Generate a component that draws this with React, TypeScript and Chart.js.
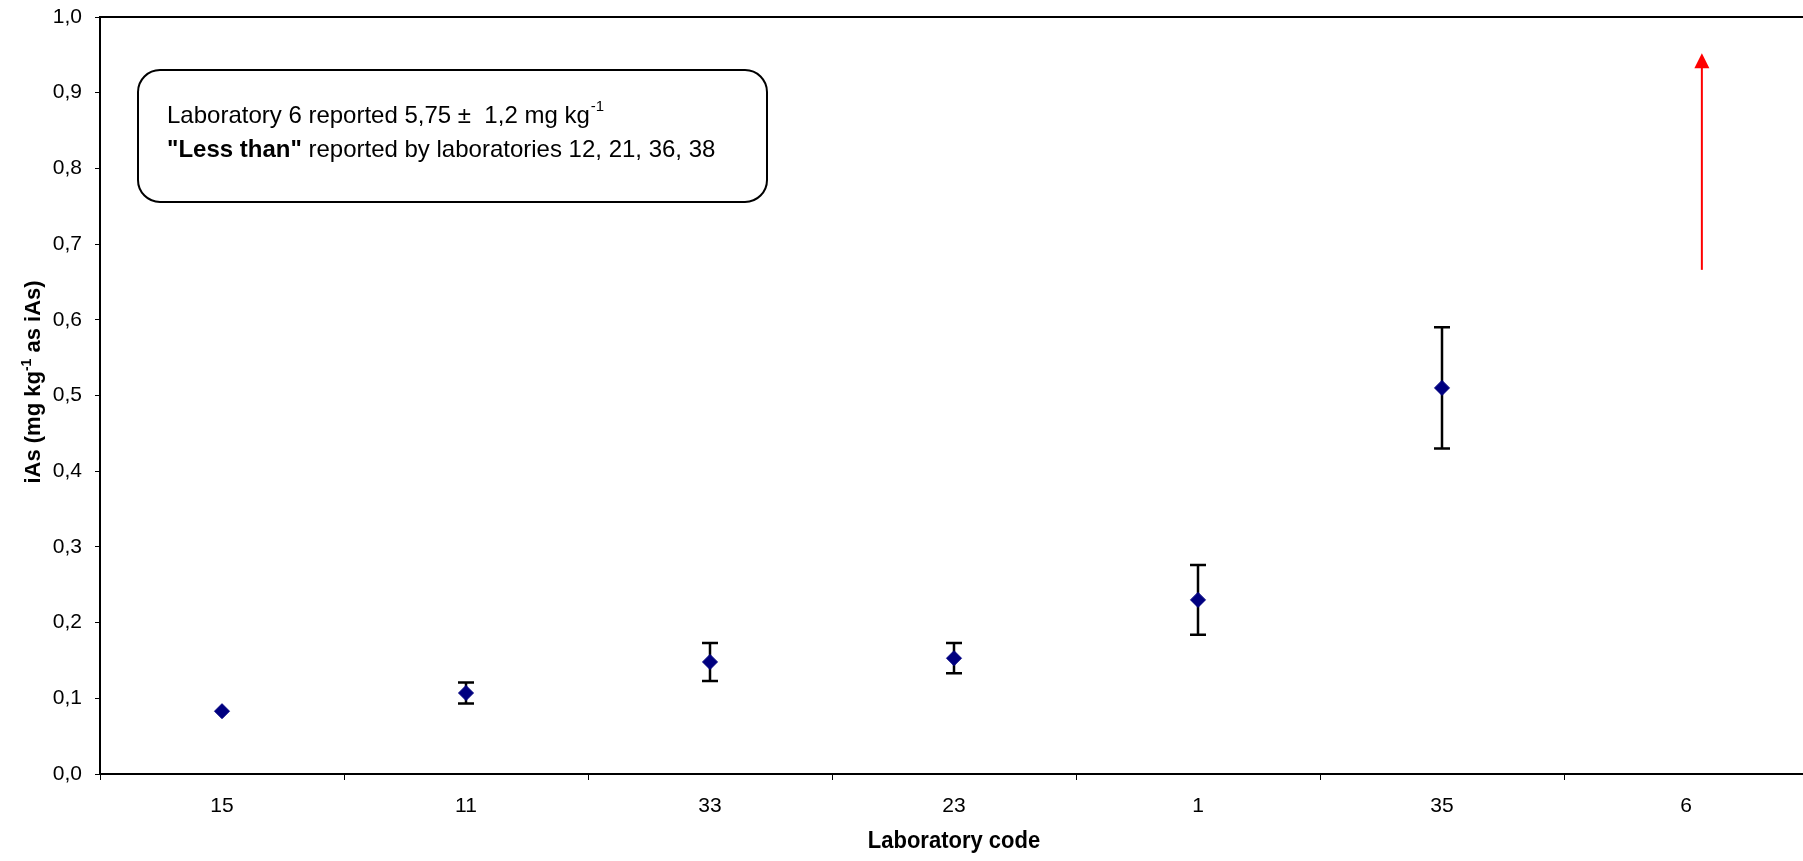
import React, { useEffect, useRef } from "react";
import { Chart, registerables } from "chart.js";

Chart.register(...registerables);

// ---- data ----
const labCodes = ["15", "11", "33", "23", "1", "35", "6"];
const iAsValues: (number | null)[] = [0.083, 0.107, 0.148, 0.153, 0.23, 0.51, null];
const uncertainties: (number | null)[] = [0, 0.014, 0.025, 0.02, 0.046, 0.08, null];
const yMin = 0;
const yMax = 1;
const yStep = 0.1;
// off-scale result of laboratory 6, shown as an arrow
const arrowCategory = 6.065;
const arrowFrom = 0.666;
const arrowTo = 0.952;
const noteLine1 = "Laboratory 6 reported 5,75 \u00B1  1,2 mg kg";
const noteLine1Sup = "-1";
const noteLine2Bold = "\"Less than\"";
const noteLine2 = " reported by laboratories 12, 21, 36, 38";
const xTitle = "Laboratory code";
const yTitleA = "iAs (mg kg";
const yTitleSup = "-1";
const yTitleB = " as iAs)";

const FONT = "'Liberation Sans', Arial, sans-serif";

const drawPlugin = {
  id: "drawPlugin",
  beforeDatasetsDraw(chart: any) {
    const ctx = chart.ctx;
    const xs = chart.scales.x;
    const ys = chart.scales.y;
    ctx.save();
    ctx.strokeStyle = "#000000";
    ctx.lineWidth = 2.5;
    iAsValues.forEach((v, i) => {
      const u = uncertainties[i];
      if (v === null || u === null || u === 0) return;
      const x = xs.getPixelForValue(i);
      const yHi = ys.getPixelForValue(v + u);
      const yLo = ys.getPixelForValue(v - u);
      ctx.beginPath();
      ctx.moveTo(x, yHi);
      ctx.lineTo(x, yLo);
      ctx.moveTo(x - 8, yHi);
      ctx.lineTo(x + 8, yHi);
      ctx.moveTo(x - 8, yLo);
      ctx.lineTo(x + 8, yLo);
      ctx.stroke();
    });
    ctx.restore();
  },
  afterDraw(chart: any) {
    const ctx = chart.ctx;
    const { left, right, top, bottom } = chart.chartArea;
    const xs = chart.scales.x;
    const ys = chart.scales.y;
    ctx.save();
    // top / right frame
    ctx.strokeStyle = "#000000";
    ctx.lineWidth = 2;
    ctx.beginPath();
    ctx.moveTo(left, top);
    ctx.lineTo(right, top);
    ctx.lineTo(right, bottom);
    ctx.stroke();

    // arrow (lab 6)
    const ax = xs.getPixelForValue(arrowCategory);
    const ay0 = ys.getPixelForValue(arrowFrom);
    const ay1 = ys.getPixelForValue(arrowTo);
    ctx.strokeStyle = "#FF0000";
    ctx.fillStyle = "#FF0000";
    ctx.lineWidth = 2;
    ctx.beginPath();
    ctx.moveTo(ax, ay0);
    ctx.lineTo(ax, ay1 + 12);
    ctx.stroke();
    ctx.beginPath();
    ctx.moveTo(ax, ay1);
    ctx.lineTo(ax - 7.5, ay1 + 15);
    ctx.lineTo(ax + 7.5, ay1 + 15);
    ctx.closePath();
    ctx.fill();

    // note box
    const bx = left + 38;
    const by = top + 53;
    const bw = 629;
    const bh = 132;
    ctx.fillStyle = "#ffffff";
    ctx.strokeStyle = "#000000";
    ctx.lineWidth = 2;
    ctx.beginPath();
    (ctx as any).roundRect(bx, by, bw, bh, 22);
    ctx.fill();
    ctx.stroke();
    ctx.fillStyle = "#000000";
    ctx.textBaseline = "alphabetic";
    ctx.textAlign = "left";
    const tx = bx + 29;
    ctx.font = `24px ${FONT}`;
    ctx.fillText(noteLine1, tx, by + 53);
    const w1 = ctx.measureText(noteLine1).width;
    ctx.font = `15px ${FONT}`;
    ctx.fillText(noteLine1Sup, tx + w1 + 1, by + 41);
    ctx.font = `bold 24px ${FONT}`;
    ctx.fillText(noteLine2Bold, tx, by + 87);
    const w2 = ctx.measureText(noteLine2Bold).width;
    ctx.font = `24px ${FONT}`;
    ctx.fillText(noteLine2, tx + w2, by + 87);

    // x title
    ctx.save();
    ctx.font = `bold 22px ${FONT}`;
    ctx.textAlign = "center";
    ctx.translate((left + right) / 2, 848);
    ctx.scale(1, 1.12);
    ctx.fillText(xTitle, 0, 0);
    ctx.restore();

    // y title (rotated, with superscript)
    ctx.translate(40, 382);
    ctx.rotate(-Math.PI / 2);
    ctx.textAlign = "left";
    ctx.font = `bold 22px ${FONT}`;
    const wa = ctx.measureText(yTitleA).width;
    const wb = ctx.measureText(yTitleB).width;
    ctx.font = `bold 14px ${FONT}`;
    const ws = ctx.measureText(yTitleSup).width;
    const total = wa + ws + wb;
    let cx = -total / 2;
    ctx.font = `bold 22px ${FONT}`;
    ctx.fillText(yTitleA, cx, 0);
    cx += wa;
    ctx.font = `bold 14px ${FONT}`;
    ctx.fillText(yTitleSup, cx, -9);
    cx += ws;
    ctx.font = `bold 22px ${FONT}`;
    ctx.fillText(yTitleB, cx, 0);
    ctx.restore();
  },
};

export default function App() {
  const ref = useRef<HTMLCanvasElement | null>(null);
  useEffect(() => {
    if (!ref.current) return;
    const chart = new Chart(ref.current, {
      type: "line",
      data: {
        labels: labCodes,
        datasets: [
          {
            data: iAsValues as any,
            showLine: false,
            pointStyle: "rectRot",
            pointRadius: 7.5,
            pointHoverRadius: 7.5,
            pointBackgroundColor: "#000080",
            pointBorderColor: "#000080",
            pointBorderWidth: 1,
          },
        ],
      },
      options: {
        responsive: false,
        animation: false,
        devicePixelRatio: 1,
        layout: { padding: { top: 17, right: 22, left: 0, bottom: 0 } },
        plugins: {
          legend: { display: false },
          tooltip: { enabled: false },
          title: { display: false },
        },
        scales: {
          x: {
            type: "category",
            offset: true,
            grid: {
              offset: true,
              drawOnChartArea: false,
              drawTicks: true,
              tickLength: 6,
              color: "#000000",
              lineWidth: 1,
            },
            border: { display: true, color: "#000000", width: 2 },
            ticks: {
              color: "#000000",
              font: { family: FONT, size: 21 },
              padding: 14,
              maxRotation: 0,
              autoSkip: false,
            },
            afterFit: (scale: any) => {
              scale.height = 87;
              scale.paddingLeft = 0;
              scale.paddingRight = 0;
            },
          },
          y: {
            min: yMin,
            max: yMax,
            grid: {
              drawOnChartArea: false,
              drawTicks: true,
              tickLength: 5,
              color: "#000000",
              lineWidth: 1,
            },
            border: { display: true, color: "#000000", width: 2 },
            ticks: {
              stepSize: yStep,
              color: "#000000",
              font: { family: FONT, size: 21 },
              padding: 13,
              callback: (v: any) => Number(v).toFixed(1).replace(".", ","),
            },
            afterFit: (scale: any) => {
              scale.width = 100;
              scale.paddingTop = 0;
              scale.paddingBottom = 0;
            },
          },
        },
      },
      plugins: [drawPlugin],
    });
    return () => chart.destroy();
  }, []);
  return (
    <div
      style={{
        position: "absolute",
        left: 0,
        top: 0,
        width: 1803,
        height: 861,
        overflow: "hidden",
        background: "#ffffff",
      }}
    >
      <canvas ref={ref} width={1830} height={861} style={{ display: "block" }} />
    </div>
  );
}
